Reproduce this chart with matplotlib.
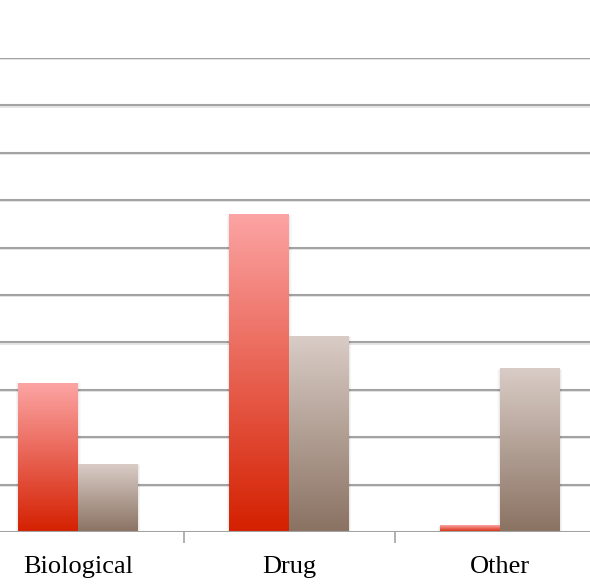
import numpy as np
import matplotlib
matplotlib.use("Agg")
import matplotlib.pyplot as plt
from matplotlib.colors import LinearSegmentedColormap
from matplotlib.patches import Rectangle

# share of cases by category
categories = ["Biological", "Drug", "Other"]
series_a = [31.4, 66.9, 1.3]
series_b = [14.3, 41.3, 34.4]

red_grad = LinearSegmentedColormap.from_list("red_grad", ["#d42000", "#fca4a4"])
brown_grad = LinearSegmentedColormap.from_list("brown_grad", ["#8a7262", "#d9ccc6"])

fig = plt.figure(figsize=(5.9, 5.86), dpi=100)
W, H = 590, 586
# plot area runs past the left/right edges of the figure
ax = fig.add_axes([-27.5 / W, 54 / H, 633 / W, 474 / H])
ax.set_xlim(-0.5, 2.5)
ax.set_ylim(0, 100)

bar_w = 0.284
grad = np.linspace(0, 1, 256).reshape(-1, 1)


def gradient_bar(x0, h, cmap):
    # faint drop shadow at the sides
    for k in range(4):
        pad = 0.003 * (k + 1)
        ax.add_patch(Rectangle((x0 - pad, 0), bar_w + 2 * pad, h - 0.3 + pad * 25,
                               color="black", alpha=0.02, lw=0, zorder=2))
    ax.imshow(grad, cmap=cmap, origin="lower", aspect="auto",
              extent=(x0, x0 + bar_w, 0, h), zorder=3)


x = np.arange(len(categories))
for i in x:
    gradient_bar(i - bar_w, series_a[i], red_grad)
    gradient_bar(i, series_b[i], brown_grad)

ax.set_xlim(-0.5, 2.5)
ax.set_ylim(0, 100)

# horizontal grid
for yv in np.arange(10, 101, 10):
    ax.axhline(yv - 0.25, color="#e2e2e2", lw=1.2, zorder=1)
    ax.axhline(yv, color="#a3a3a3", lw=1.5, zorder=1)
ax.axhline(0, color="#a3a3a3", lw=1.5, zorder=4)

for s in ax.spines.values():
    s.set_visible(False)
ax.set_yticks([])
ax.set_xticks([0.5, 1.5])
ax.set_xticklabels([])
ax.tick_params(axis="x", length=8, width=1.2, color="#a3a3a3", direction="out")
for i, c in enumerate(categories):
    ax.text(i, -7.4, c, ha="center", va="center", fontsize=19,
            family="Liberation Serif", color="black")

fig.savefig("out.png", dpi=100)
